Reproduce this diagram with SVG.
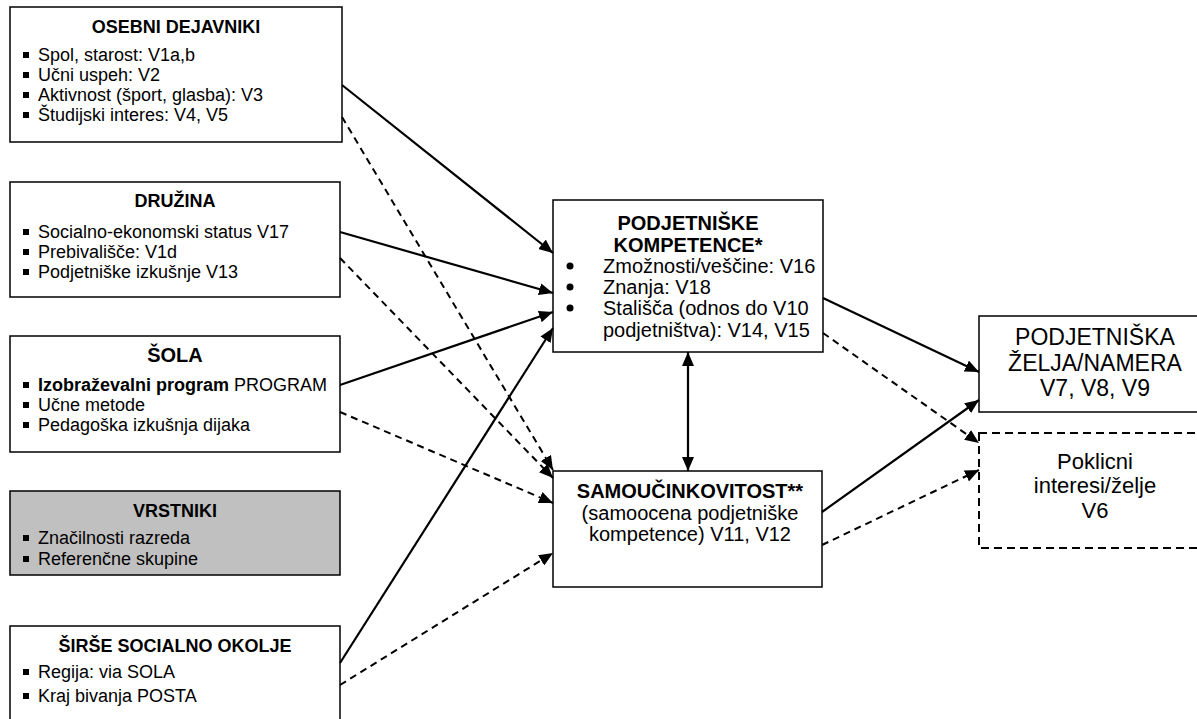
<svg xmlns="http://www.w3.org/2000/svg" width="1197" height="719" viewBox="0 0 1197 719">
<style>
text{font-family:"Liberation Sans",Arial,sans-serif;fill:#000}
.box{fill:#fff;stroke:#000;stroke-width:1.5}
.grey{fill:#c0c0c0}
.dbox{fill:#fff;stroke:#000;stroke-width:2;stroke-dasharray:8 5}
.t{font-size:18px;font-weight:bold;text-anchor:middle}
.i{font-size:18px}
.c{font-size:20px}
.cb{font-size:20px;font-weight:bold;text-anchor:middle}
.cm{font-size:20px;text-anchor:middle}
.r{font-size:23px;text-anchor:middle}
.p{font-size:22px;text-anchor:middle}
.sl{fill:none;stroke:#000;stroke-width:2.2;marker-end:url(#ah)}
.dl{fill:none;stroke:#000;stroke-width:2;stroke-dasharray:7 5;marker-end:url(#ah)}
</style>
<defs>
<marker id="ah" markerUnits="userSpaceOnUse" markerWidth="15" markerHeight="12" refX="14" refY="6" orient="auto">
<path d="M0,0 L14,6 L0,12 Z" fill="#000"/>
</marker>
<marker id="ahs" markerUnits="userSpaceOnUse" markerWidth="15" markerHeight="12" refX="14" refY="6" orient="auto-start-reverse">
<path d="M0,0 L14,6 L0,12 Z" fill="#000"/>
</marker>
<rect id="sq" width="6" height="6" fill="#000"/>
</defs>

<g id="osebni">
<rect class="box" x="10" y="7" width="332" height="135"/>
<text class="t" x="176" y="33">OSEBNI DEJAVNIKI</text>
<use href="#sq" x="23" y="52"/><text class="i" x="38" y="61">Spol, starost:  V1a,b</text>
<use href="#sq" x="23" y="72"/><text class="i" x="38" y="81">Učni uspeh: V2</text>
<use href="#sq" x="23" y="92"/><text class="i" x="38" y="101">Aktivnost (šport, glasba): V3</text>
<use href="#sq" x="23" y="112"/><text class="i" x="38" y="121">Študijski interes: V4, V5</text>
</g>

<g id="druzina">
<rect class="box" x="10" y="182" width="330" height="115"/>
<text class="t" x="175" y="207">DRUŽINA</text>
<use href="#sq" x="23" y="229"/><text class="i" x="38" y="238">Socialno-ekonomski status V17</text>
<use href="#sq" x="23" y="249"/><text class="i" x="38" y="258">Prebivališče: V1d</text>
<use href="#sq" x="23" y="269"/><text class="i" x="38" y="278">Podjetniške izkušnje V13</text>
</g>

<g id="sola">
<rect class="box" x="10" y="336" width="330" height="116"/>
<text class="t" x="175" y="362" style="font-size:20px">ŠOLA</text>
<use href="#sq" x="23" y="382"/><text class="i" x="38" y="391"><tspan font-weight="bold">Izobraževalni program</tspan> PROGRAM</text>
<use href="#sq" x="23" y="402"/><text class="i" x="38" y="411">Učne metode</text>
<use href="#sq" x="23" y="422"/><text class="i" x="38" y="431">Pedagoška izkušnja dijaka</text>
</g>

<g id="vrstniki">
<rect class="box grey" x="10" y="491" width="330" height="84"/>
<text class="t" x="175" y="517">VRSTNIKI</text>
<use href="#sq" x="23" y="535"/><text class="i" x="38" y="544">Značilnosti razreda</text>
<use href="#sq" x="23" y="556"/><text class="i" x="38" y="565">Referenčne skupine</text>
</g>

<g id="sirse">
<rect class="box" x="10" y="626" width="330" height="100"/>
<text class="t" x="175" y="652">ŠIRŠE SOCIALNO OKOLJE</text>
<use href="#sq" x="23" y="669"/><text class="i" x="38" y="678">Regija: via SOLA</text>
<use href="#sq" x="23" y="693"/><text class="i" x="38" y="702">Kraj bivanja POSTA</text>
</g>

<g id="kompetence">
<rect class="box" x="553" y="200" width="270" height="152"/>
<text class="cb" x="688" y="230">PODJETNIŠKE</text>
<text class="cb" x="688" y="252">KOMPETENCE*</text>
<circle cx="570" cy="266" r="3.5"/><text class="c" x="603" y="273">Zmožnosti/veščine: V16</text>
<circle cx="570" cy="287" r="3.5"/><text class="c" x="603" y="294">Znanja: V18</text>
<circle cx="570" cy="308" r="3.5"/><text class="c" x="603" y="315">Stališča (odnos do  V10</text>
<text class="c" x="603" y="337">podjetništva): V14, V15</text>
</g>

<g id="samoucinkovitost">
<rect class="box" x="553" y="471" width="269" height="116"/>
<text class="cb" x="690" y="498">SAMOUČINKOVITOST**</text>
<text class="cm" x="690" y="520">(samoocena podjetniške</text>
<text class="cm" x="690" y="541">kompetence) V11, V12</text>
</g>

<g id="zelja">
<rect class="box" x="979" y="316" width="240" height="96"/>
<text class="r" x="1095" y="345">PODJETNIŠKA</text>
<text class="r" x="1095" y="371">ŽELJA/NAMERA</text>
<text class="r" x="1095" y="396">V7, V8, V9</text>
</g>

<g id="poklicni">
<rect class="dbox" x="979" y="433" width="240" height="115"/>
<text class="p" x="1095" y="469">Poklicni</text>
<text class="p" x="1095" y="493">interesi/želje</text>
<text class="p" x="1095" y="518">V6</text>
</g>

<g id="connectors">
<line class="sl" x1="342" y1="85" x2="553" y2="253"/>
<line class="sl" x1="340" y1="232" x2="553" y2="293"/>
<line class="sl" x1="340" y1="385" x2="553" y2="312"/>
<line class="sl" x1="340" y1="663" x2="553" y2="328"/>
<line class="dl" x1="342" y1="117" x2="553" y2="470"/>
<line class="dl" x1="340" y1="258" x2="553" y2="478"/>
<line class="dl" x1="340" y1="412" x2="553" y2="503"/>
<line class="dl" x1="340" y1="685" x2="553" y2="553"/>
<line class="sl" x1="823" y1="298" x2="979" y2="372"/>
<line class="sl" x1="822" y1="512" x2="979" y2="400"/>
<line class="dl" x1="823" y1="333" x2="979" y2="443"/>
<line class="dl" x1="822" y1="545" x2="979" y2="470"/>
<line x1="688" y1="352" x2="688" y2="471" stroke="#000" stroke-width="2.2" marker-start="url(#ahs)" marker-end="url(#ahs)"/>
</g>
</svg>
